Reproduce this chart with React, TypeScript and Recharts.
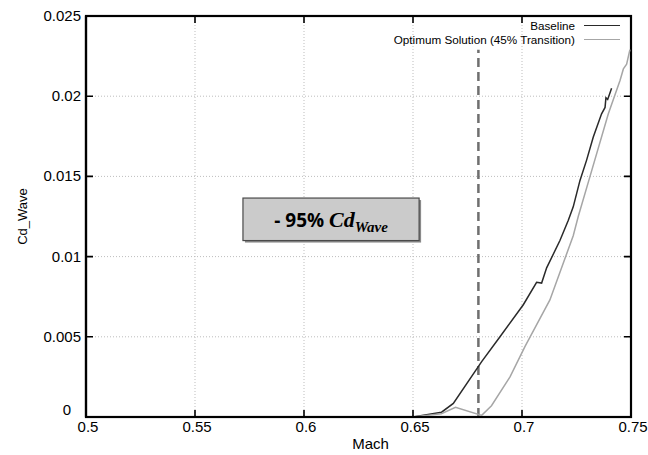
import { LineChart, Line, XAxis, YAxis, CartesianGrid, ReferenceLine, ReferenceArea, Legend } from 'recharts';

// Wave drag coefficient vs Mach number
const machTicks = [0.5, 0.55, 0.6, 0.65, 0.7, 0.75];
const cdTicks = [0, 0.005, 0.01, 0.015, 0.02, 0.025];

const baselineMach = [0.65, 0.6631, 0.6685, 0.6815, 0.6899, 0.7006, 0.7067, 0.709, 0.7113, 0.7174, 0.7212, 0.7235, 0.7266, 0.7296, 0.7327, 0.7365, 0.7381, 0.7385, 0.7393, 0.7411];
const baselineCd = [0, 0.0003, 0.00085, 0.00345, 0.005, 0.007, 0.0084, 0.00835, 0.0093, 0.011, 0.01225, 0.0131, 0.01475, 0.016, 0.01745, 0.0189, 0.0193, 0.0199, 0.0198, 0.0205];

const optimumMach = [0.65, 0.663, 0.6695, 0.6815, 0.686, 0.6945, 0.7014, 0.7128, 0.7235, 0.7258, 0.7312, 0.7396, 0.745, 0.7465, 0.748, 0.7495];
const optimumCd = [0, 0.0002, 0.0006, 0.0001, 0.0007, 0.0025, 0.0044, 0.0073, 0.0113, 0.0125, 0.015, 0.0189, 0.021, 0.0217, 0.022, 0.0229];

const machDomain = [0.5, 0.75];
const cdDomain = [0, 0.025];
const transitionMach = 0.68;
const transitionTop = 0.0229;
const reductionBox = { x1: 0.572, x2: 0.6528, y1: 0.011, y2: 0.01365 };

const baselineData = baselineMach.map((m, i) => ({ mach: m, cd: baselineCd[i] }));
const optimumData = optimumMach.map((m, i) => ({ mach: m, cd: optimumCd[i] }));

const FONT = '"Liberation Sans", Arial, Helvetica, sans-serif';
const FRAME = '#000000';
const M = { top: 16, right: 17, bottom: 0, left: 0 };
const W = 648;
const H = 455;
const PLOT_TOP = M.top;
const PLOT_RIGHT = W - M.right;

// ticks point inward on all four sides of the frame
const BottomTick = ({ x, y, payload }: any) => (
  <g>
    <path d={`M${x},${y}V${y - 7}M${x},${PLOT_TOP}V${PLOT_TOP + 7}`} stroke={FRAME} strokeWidth={1.6} fill="none" />
    <text x={x + 2} y={y + 15} textAnchor="middle" fontSize={15} fontFamily={FONT} fill="#000">
      {payload.value}
    </text>
  </g>
);

const LeftTick = ({ x, y, payload }: any) => {
  const zero = payload.value === 0;
  return (
    <g>
      <path d={`M${x},${y}H${x + 7}M${PLOT_RIGHT},${y}H${PLOT_RIGHT - 7}`} stroke={FRAME} strokeWidth={1.6} fill="none" />
      <text x={x - (zero ? 15 : 5)} y={y + (zero ? -2 : 5)} textAnchor="end" fontSize={15} fontFamily={FONT} fill="#000">
        {payload.value}
      </text>
    </g>
  );
};

const YTitle = ({ viewBox }: any) => {
  const cx = 22;
  const cy = viewBox.y + viewBox.height / 2;
  return (
    <text x={cx} y={cy} transform={`rotate(-90, ${cx}, ${cy})`} textAnchor="middle" dominantBaseline="central" fontSize={13} fontFamily={FONT} fill="#000">
      Cd_Wave
    </text>
  );
};

const XTitle = ({ viewBox }: any) => (
  <text x={viewBox.x + viewBox.width / 2 + 12} y={449} textAnchor="middle" fontSize={15} fontFamily={FONT} fill="#000">
    Mach
  </text>
);

const FrameShape = ({ x, y, width, height }: any) => (
  <rect x={x} y={y} width={width} height={height} fill="none" stroke={FRAME} strokeWidth={2.2} />
);

const BoxShape = ({ x, y, width, height }: any) => (
  <g>
    <rect x={x + 2} y={y + 2} width={width} height={height} fill="#8a8a8a" />
    <rect x={x} y={y} width={width} height={height} fill="#cbcbcb" stroke="#4a4a4a" strokeWidth={1.2} />
  </g>
);

const BoxLabel = ({ viewBox }: any) => {
  const cx = viewBox.x + viewBox.width / 2;
  const cy = viewBox.y + viewBox.height / 2;
  return (
    <text x={cx} y={cy + 8} textAnchor="middle" fill="#000">
      <tspan fontFamily='"Open Sans", "Liberation Sans", sans-serif' fontWeight={700} fontSize={19}>- 95% </tspan>
      <tspan fontFamily='"Liberation Serif", "DejaVu Serif", serif' fontStyle="italic" fontWeight={700} fontSize={22}>Cd</tspan>
      <tspan fontFamily='"Liberation Serif", "DejaVu Serif", serif' fontStyle="italic" fontWeight={700} fontSize={15} dy={5}>Wave</tspan>
    </text>
  );
};

const LegendBox = ({ payload }: any) => (
  <div style={{ fontFamily: FONT, fontSize: 11.7, color: '#000', lineHeight: '13.5px' }}>
    {(payload || []).map((entry: any) => (
      <div key={entry.value} style={{ display: 'flex', justifyContent: 'flex-end', alignItems: 'center' }}>
        <span>{entry.value}</span>
        <span style={{ display: 'inline-block', width: 36, height: 0, borderTop: `1.5px solid ${entry.color}`, marginLeft: 9 }} />
      </div>
    ))}
  </div>
);

export default function App() {
  return (
    <div style={{ position: 'absolute', left: 0, top: 0 }}>
      <LineChart width={W} height={H} margin={M}>
        <CartesianGrid stroke="#bdbdbd" strokeDasharray="1 2" />
        <XAxis
          dataKey="mach"
          type="number"
          domain={machDomain}
          ticks={machTicks}
          allowDataOverflow
          height={38}
          tickSize={0}
          tickMargin={0}
          tick={<BottomTick />}
          axisLine={{ stroke: FRAME, strokeWidth: 2.2 }}
          label={<XTitle />}
        />
        <YAxis
          type="number"
          domain={cdDomain}
          ticks={cdTicks}
          width={86}
          tickSize={0}
          tickMargin={0}
          tick={<LeftTick />}
          axisLine={{ stroke: FRAME, strokeWidth: 2.2 }}
          label={<YTitle />}
        />
        <ReferenceArea
          x1={machDomain[0]}
          x2={machDomain[1]}
          y1={cdDomain[0]}
          y2={cdDomain[1]}
          ifOverflow="visible"
          shape={<FrameShape />}
        />
        <ReferenceArea
          x1={reductionBox.x1}
          x2={reductionBox.x2}
          y1={reductionBox.y1}
          y2={reductionBox.y2}
          shape={<BoxShape />}
          label={<BoxLabel />}
        />
        <ReferenceLine
          segment={[{ x: transitionMach, y: 0 }, { x: transitionMach, y: transitionTop }]}
          stroke="#6f6f6f"
          strokeWidth={2.5}
          strokeDasharray="9 5"
        />
        <Line data={baselineData} dataKey="cd" name="Baseline" stroke="#2a2a2a" strokeWidth={1.5} dot={false} isAnimationActive={false} />
        <Line data={optimumData} dataKey="cd" name="Optimum Solution (45% Transition)" stroke="#a6a6a6" strokeWidth={1.5} dot={false} isAnimationActive={false} />
        <Legend
          layout="vertical"
          align="center"
          verticalAlign="middle"
          content={<LegendBox />}
          wrapperStyle={{ top: 19, left: 375, width: 245 }}
        />
      </LineChart>
    </div>
  );
}
